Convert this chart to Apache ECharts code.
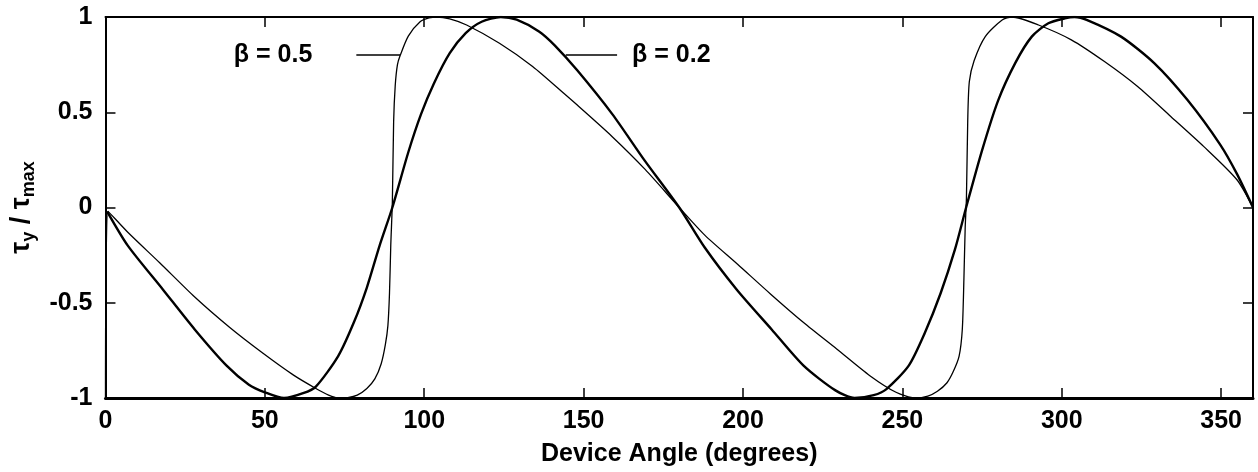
<!DOCTYPE html>
<html>
<head>
<meta charset="utf-8">
<script src="https://cdn.jsdelivr.net/npm/echarts@6/dist/echarts.min.js"></script>
<style>
html,body{margin:0;padding:0;background:#fff;}
#chart{width:1258px;height:472px;}
</style>
</head>
<body>
<div id="chart"></div>
<script>
// ---- data ----
var xTickInterval = 50;
var yTickInterval = 0.5;

// beta = 0.2 (thick curve)
var beta02Angle = [0.5, 7, 18, 28, 38, 45, 50, 56, 62, 66,
  73, 78, 82, 86, 90, 95, 99, 103, 108, 113,
  118, 124, 129, 136, 141, 148, 159, 169, 180, 188,
  198, 209, 219, 229, 235, 241, 245, 252, 257, 262,
  266.5, 270, 275, 280, 285.4, 290.6, 295.8, 301, 304, 308,
  318.6, 329, 339.4, 349.7, 355, 360];
var beta02Value = [-0.02, -0.2, -0.43, -0.64, -0.83, -0.93, -0.97, -1.0, -0.975, -0.94,
  -0.78, -0.60, -0.42, -0.2, 0.0, 0.29, 0.49, 0.65, 0.81, 0.915,
  0.975, 1.0, 0.986, 0.924, 0.85, 0.72, 0.49, 0.25, 0.0, -0.21,
  -0.43, -0.64, -0.83, -0.96, -1.0, -0.985, -0.953, -0.83, -0.66, -0.45,
  -0.22, 0.0, 0.3, 0.56, 0.758, 0.897, 0.967, 0.993, 1.0, 0.984,
  0.897, 0.758, 0.565, 0.33, 0.175, 0.0];

// beta = 0.5 (thin curve)
var beta05Angle = [0, 0.8, 7, 17, 28, 39, 49, 59, 66, 70,
  73, 76, 79, 82, 84.5, 86.5, 87.8, 88.6, 89.1, 89.5,
  90, 90.4, 90.9, 91.6, 92.5, 95, 98.7, 101.5, 104, 108,
  113.3, 123.6, 134, 144.4, 148.5, 158.9, 169.3, 180, 188, 198.3,
  208.7, 219, 229.4, 239.8, 248, 254, 258, 261, 264, 266,
  267.8, 268.8, 269.3, 269.7, 270.1, 270.5, 271, 272.5, 276, 281.3,
  284.4, 292.7, 303, 313.4, 323.8, 334.2, 344.5, 354.9, 360];
var beta05Value = [-1, -0.02, -0.13, -0.29, -0.47, -0.63, -0.76, -0.88, -0.95, -0.985,
  -1.0, -0.998, -0.985, -0.95, -0.9, -0.82, -0.72, -0.62, -0.45, -0.2,
  0.03, 0.45, 0.64, 0.75, 0.8, 0.9, 0.975, 0.995, 1.0, 0.99,
  0.958, 0.862, 0.74, 0.59, 0.53, 0.373, 0.2, 0.0, -0.145, -0.298,
  -0.455, -0.604, -0.743, -0.883, -0.97, -1.0, -0.99, -0.965, -0.92, -0.86,
  -0.78, -0.64, -0.38, -0.11, 0.05, 0.45, 0.66, 0.77, 0.897, 0.984,
  1.0, 0.958, 0.88, 0.766, 0.635, 0.478, 0.321, 0.147, 0.0];

// annotation leader lines (data coordinates)
var leaderValue = 0.8;
var leader05Angle = [78.7, 92.4];
var leader02Angle = [144.4, 160.5];
var label05 = 'β = 0.5';
var label02 = 'β = 0.2';
var xAxisTitle = 'Device Angle (degrees)';

function pairs(xs, ys) { return xs.map(function (x, i) { return [x, ys[i]]; }); }

var FONT = "'Liberation Sans', Arial, Helvetica, sans-serif";
var chart = echarts.init(document.getElementById('chart'), null, {renderer: 'canvas'});

var tickStyle = {show: true, inside: true, length: 10, lineStyle: {color: '#000', width: 1.5}};

var option = {
  backgroundColor: '#fff',
  animation: false,
  grid: {left: 96, right: 5, top: 17, bottom: 73, containLabel: false},
  xAxis: [{
    type: 'value', min: 0, max: 360, interval: xTickInterval, position: 'bottom',
    axisLine: {show: true, onZero: false, lineStyle: {color: '#000', width: 3}},
    axisTick: tickStyle,
    splitLine: {show: false},
    axisLabel: {show: true, color: '#000', fontSize: 25, fontWeight: 'bold', fontFamily: FONT, margin: 11, showMaxLabel: false},
    name: xAxisTitle, nameLocation: 'middle', nameGap: 44,
    nameTextStyle: {color: '#000', fontSize: 25, fontWeight: 'bold', fontFamily: FONT}
  }, {
    type: 'value', min: 0, max: 360, interval: xTickInterval, position: 'top',
    axisLine: {show: true, onZero: false, lineStyle: {color: '#000', width: 2}},
    axisTick: tickStyle, splitLine: {show: false}, axisLabel: {show: false}
  }],
  yAxis: [{
    type: 'value', min: -1, max: 1, interval: yTickInterval, position: 'left',
    axisLine: {show: true, onZero: false, lineStyle: {color: '#000', width: 2}},
    axisTick: tickStyle, splitLine: {show: false},
    axisLabel: {show: true, color: '#000', fontSize: 25, fontWeight: 'bold', fontFamily: FONT, margin: 13},
    name: '{t|τ}{s|y}{t| / τ}{s|max}',
    nameLocation: 'middle', nameRotate: 90, nameGap: 52,
    nameTextStyle: {
      color: '#000', fontFamily: FONT, fontWeight: 'bold',
      rich: {
        t: {fontSize: 27, fontWeight: 'bold', fontFamily: FONT, color: '#000', lineHeight: 34},
        s: {fontSize: 18, fontWeight: 'bold', fontFamily: FONT, color: '#000', lineHeight: 18, verticalAlign: 'bottom'}
      }
    }
  }, {
    type: 'value', min: -1, max: 1, interval: yTickInterval, position: 'right',
    axisLine: {show: true, onZero: false, lineStyle: {color: '#000', width: 2}},
    axisTick: tickStyle, splitLine: {show: false}, axisLabel: {show: false}
  }],
  series: [{
    name: label02, type: 'line', xAxisIndex: 0, yAxisIndex: 0,
    data: pairs(beta02Angle, beta02Value),
    showSymbol: false, smooth: 0.25, clip: true,
    lineStyle: {color: '#000', width: 2.4},
    markLine: {
      silent: true, symbol: ['none', 'none'],
      lineStyle: {color: '#000', width: 1.5, type: 'solid'},
      label: {show: true, position: 'end', distance: 15, padding: [6, 0, 0, 0], formatter: label02, color: '#000', fontSize: 25, fontWeight: 'bold', fontFamily: FONT},
      data: [[{coord: [leader02Angle[0], leaderValue]}, {coord: [leader02Angle[1], leaderValue]}]]
    }
  }, {
    name: label05, type: 'line', xAxisIndex: 0, yAxisIndex: 0,
    data: pairs(beta05Angle, beta05Value),
    showSymbol: false, smooth: 0.25, clip: true,
    lineStyle: {color: '#000', width: 1.3},
    markLine: {
      silent: true, symbol: ['none', 'none'],
      lineStyle: {color: '#000', width: 1.5, type: 'solid'},
      label: {show: true, position: 'start', distance: 44, padding: [6, 0, 0, 0], formatter: label05, color: '#000', fontSize: 25, fontWeight: 'bold', fontFamily: FONT},
      data: [[{coord: [leader05Angle[0], leaderValue]}, {coord: [leader05Angle[1], leaderValue]}]]
    }
  }]
};
chart.setOption(option);
</script>
</body>
</html>
